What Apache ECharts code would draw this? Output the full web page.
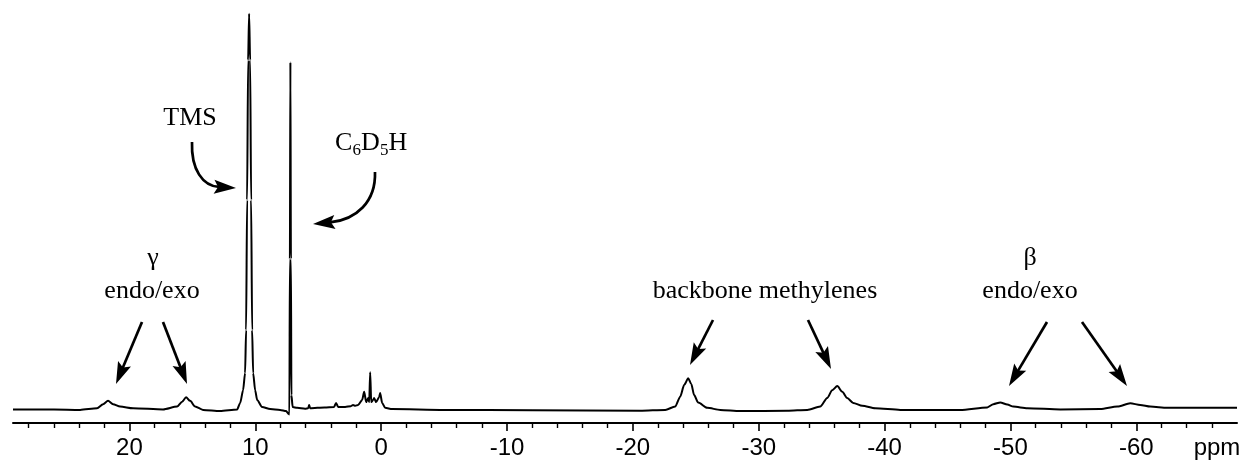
<!DOCTYPE html>
<html>
<head>
<meta charset="utf-8">
<script src="https://cdn.jsdelivr.net/npm/echarts@6/dist/echarts.min.js"></script>
<style>
  html, body { margin: 0; padding: 0; background: #fff; }
  #spectrum { width: 1247px; height: 461px; }
</style>
</head>
<body>
<div id="spectrum"></div>
<script>
// chemical shift (ppm) and intensity
var shift = [
  29.25, 26.0, 23.92, 22.57, 22.09, 21.70, 21.30, 20.74, 19.71, 17.33,
  16.21, 15.81, 15.50, 15.18, 14.78, 14.15, 12.80, 11.44,
  11.20, 10.97, 10.81, 10.73, 10.65, 10.57, 10.49, 10.41, 10.33, 10.25,
  10.17, 10.01, 9.85, 9.46, 8.82, 8.03, 7.55, 7.35,
  7.29, 7.25, 7.21, 7.17, 7.13, 7.03, 6.68,
  6.04, 5.80, 5.72, 5.64, 4.50, 3.74, 3.58, 3.42, 2.86, 2.40, 2.23, 2.06,
  1.83, 1.51, 1.35, 1.19, 1.03, 0.95, 0.87, 0.79, 0.64, 0.56, 0.40, 0.16,
  0.08, -0.08, -0.32, -0.87, -5.0, -12.0, -20.58,
  -22.57, -23.36, -23.76, -24.08, -24.40, -24.64, -24.87, -25.19, -25.91,
  -26.94, -28.53, -32.27, -33.86, -34.89, -35.44, -35.84, -36.24, -36.64,
  -37.03, -37.51, -38.23, -39.26, -41.25, -46.01,
  -48.16, -48.64, -49.19, -49.75, -50.23, -51.34, -53.96, -57.14,
  -58.49, -59.52, -60.31, -61.11, -62.46, -63.5, -68.0
];
var intensity = [
  3.3, 3.3, 3.2, 3.6, 4.6, 5.4, 4.6, 4.0, 3.6, 3.3,
  4.0, 5.2, 6.3, 5.4, 4.0, 3.2, 2.9, 3.3,
  4.9, 8.0, 12.2, 22.7, 54.4, 88.5, 99.8, 88.5, 54.4, 22.7,
  12.2, 8.0, 5.6, 3.9, 3.4, 3.2, 2.9, 2.2,
  2.1, 40, 88, 40, 6.8, 3.9, 3.7,
  3.5, 3.6, 4.4, 3.6, 3.8, 3.9, 4.9, 3.9, 3.9, 4.1, 4.4, 4.2,
  4.4, 5.6, 7.6, 5.1, 6.1, 5.1, 12.4, 5.1, 5.6, 6.1, 5.1, 6.3,
  7.3, 4.9, 3.7, 3.4, 3.2, 3.1, 3.0,
  3.2, 4.0, 6.4, 9.3, 10.9, 9.5, 6.8, 5.0, 3.7,
  3.2, 2.9, 3.0, 3.2, 4.0, 6.1, 8.0, 9.0, 7.6,
  6.1, 4.9, 4.2, 3.6, 3.2, 3.2,
  3.8, 4.6, 5.0, 4.5, 4.0, 3.6, 3.3, 3.4,
  4.0, 4.8, 4.4, 4.0, 3.7, 3.7, 3.7
];
var majorTicks = [20, 10, 0, -10, -20, -30, -40, -50, -60];
var minorTicks = [28, 26, 24, 22, 18, 16, 14, 12, 8, 6, 4, 2, -2, -4, -6, -8,
  -12, -14, -16, -18, -22, -24, -26, -28, -32, -34, -36, -38, -42, -44, -46, -48,
  -52, -54, -56, -58, -62, -64, -66];

var serif = '"Liberation Serif", "Times New Roman", serif';
var sans = '"Liberation Sans", Arial, sans-serif';
var HEAD = 22, HALF = 7, SHAFT = 2.7;

function label(text, x, y, size, align) {
  return {
    type: 'text', silent: true,
    style: {
      text: text, x: x, y: y,
      font: size + 'px ' + serif, fill: '#000',
      align: align || 'center', textAlign: align || 'center',
      verticalAlign: 'middle', textVerticalAlign: 'middle'
    }
  };
}

function head(tx, ty, ux, uy) {
  var bx = tx - ux * HEAD, by = ty - uy * HEAD;
  var nx = bx + ux * 4, ny = by + uy * 4;
  return {
    type: 'polygon', silent: true,
    shape: { points: [[tx, ty], [bx - uy * HALF, by + ux * HALF], [nx, ny], [bx + uy * HALF, by - ux * HALF]] },
    style: { fill: '#000' }
  };
}

function arrow(x1, y1, x2, y2) {
  var dx = x2 - x1, dy = y2 - y1, len = Math.hypot(dx, dy);
  var ux = dx / len, uy = dy / len;
  return [
    { type: 'line', silent: true,
      shape: { x1: x1, y1: y1, x2: x2 - ux * (HEAD - 5), y2: y2 - uy * (HEAD - 5) },
      style: { stroke: '#000', lineWidth: SHAFT } },
    head(x2, y2, ux, uy)
  ];
}

function curvedArrow(x1, y1, c1x, c1y, c2x, c2y, tx, ty) {
  var dx = tx - c2x, dy = ty - c2y, len = Math.hypot(dx, dy);
  var ux = dx / len, uy = dy / len;
  return [
    { type: 'bezierCurve', silent: true,
      shape: { x1: x1, y1: y1, cpx1: c1x, cpy1: c1y, cpx2: c2x, cpy2: c2y,
               x2: tx - ux * (HEAD - 5), y2: ty - uy * (HEAD - 5) },
      style: { stroke: '#000', lineWidth: SHAFT, fill: null } },
    head(tx, ty, ux, uy)
  ];
}

var points = shift.map(function (s, i) { return [s, intensity[i]]; });

var annotations = [].concat(
  [label('TMS', 190, 118, 26)],
  curvedArrow(192, 142, 191, 170, 203, 186, 236, 188),
  [label('C', 335, 143, 26, 'left'), label('6', 352.5, 151, 17, 'left'),
   label('D', 361, 143, 26, 'left'), label('5', 380, 151, 17, 'left'),
   label('H', 388.5, 143, 26, 'left')],
  curvedArrow(375, 172, 376, 202, 356, 220, 313, 224),
  [label('\u03b3', 153, 258, 26), label('endo/exo', 152, 291, 26)],
  arrow(142, 322, 116, 384),
  arrow(163, 322, 187, 384),
  [label('backbone methylenes', 765, 291, 26)],
  arrow(713, 320, 690, 365),
  arrow(808, 320, 831, 369),
  [label('\u03b2', 1030, 258, 26), label('endo/exo', 1030, 291, 26)],
  arrow(1047, 322, 1009, 386),
  arrow(1082, 322, 1127, 386),
  [{ type: 'text', silent: true,
     style: { text: 'ppm', x: 1217, y: 448, font: '24px ' + sans,
              fill: '#000', align: 'center', textAlign: 'center',
              verticalAlign: 'middle', textVerticalAlign: 'middle' } }]
);

var chart = echarts.init(document.getElementById('spectrum'), null, { renderer: 'canvas' });
var option = {
  animation: false,
  backgroundColor: '#fff',
  grid: { left: 13, right: 10, top: 13, bottom: 38 },
  xAxis: [
    {
      type: 'value', inverse: true, min: -68, max: 29.25,
      splitLine: { show: false },
      axisLine: { show: true, lineStyle: { color: '#000', width: 2 } },
      axisTick: { show: true, customValues: majorTicks, length: 8, lineStyle: { color: '#000', width: 1.6 } },
      axisLabel: {
        customValues: majorTicks, margin: 13, color: '#000',
        fontSize: 24, fontFamily: sans
      }
    },
    {
      type: 'value', inverse: true, min: -68, max: 29.25, position: 'bottom',
      splitLine: { show: false },
      axisLine: { show: false },
      axisTick: { show: true, customValues: minorTicks, length: 5, lineStyle: { color: '#000', width: 1.4 } },
      axisLabel: { show: false }
    }
  ],
  yAxis: { type: 'value', min: 0, max: 100, show: false },
  series: [{
    type: 'line',
    data: points,
    showSymbol: false,
    symbol: 'none',
    smooth: 0.25,
    smoothMonotone: 'x',
    lineStyle: { color: '#000', width: 2 }
  }],
  graphic: annotations
};
chart.setOption(option);
</script>
</body>
</html>
